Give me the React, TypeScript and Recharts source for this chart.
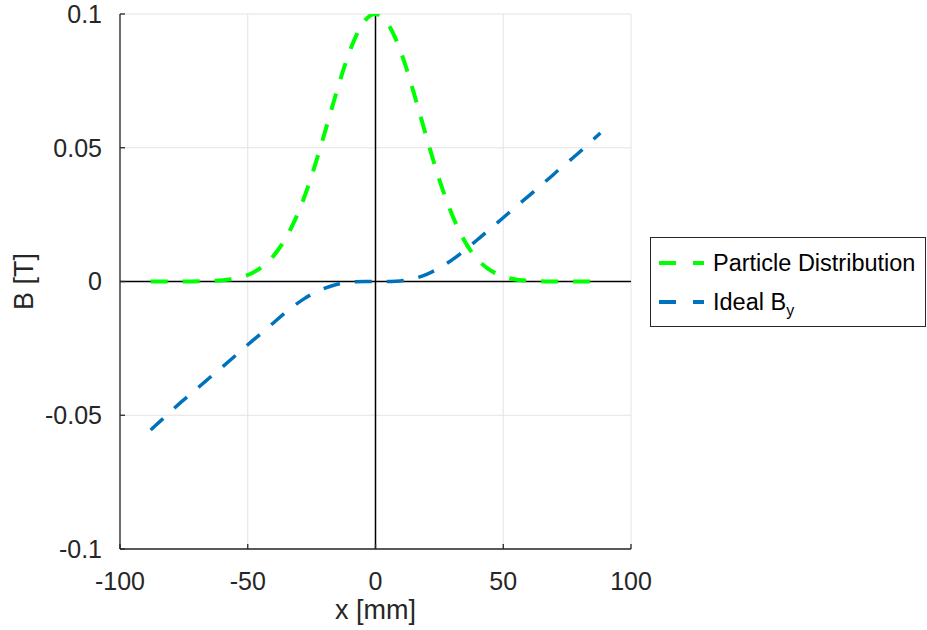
import React from 'react';
import { LineChart, Line, XAxis, YAxis, CartesianGrid, ReferenceLine, Legend } from 'recharts';

// Transverse position along the aperture (mm)
const xPositions = [
  -88, -84, -80, -76, -72, -68, -64, -60, -56, -52, -48, -44, -40, -36, -32, -28, -24, -20, -16, -12, -8, -4,
  0, 4, 8, 12, 16, 20, 24, 28, 32, 36, 40, 44, 48, 52, 56, 60, 64, 68, 72, 76, 80, 84, 88,
];

// Particle distribution profile (scaled to T)
const particleDistribution = [
  0, 0, 0, 0, 0, 0.0001, 0.0002, 0.0005, 0.0009, 0.0018, 0.0033, 0.0058, 0.0095, 0.0148, 0.022, 0.0312, 0.0425,
  0.0552, 0.0683, 0.0808, 0.091, 0.0977, 0.1, 0.0975, 0.0905, 0.08, 0.0672, 0.0538, 0.041, 0.0298, 0.0205, 0.0133,
  0.0082, 0.0048, 0.0026, 0.0013, 0.0006, 0.0003, 0.0001, 0, 0, 0, 0, 0, 0,
];

// Ideal vertical field B_y (T)
const idealBy = [
  -0.0555, -0.052, -0.0485, -0.045, -0.0418, -0.0385, -0.0352, -0.032, -0.0287, -0.0253, -0.022, -0.0188, -0.0155,
  -0.0122, -0.0092, -0.0065, -0.0043, -0.0026, -0.0013, -0.0005, -0.0001, 0, 0, 0, 0.0001, 0.0005, 0.0013, 0.0027,
  0.0045, 0.0068, 0.0095, 0.0125, 0.0157, 0.019, 0.0222, 0.0255, 0.0288, 0.032, 0.0353, 0.0386, 0.042, 0.0452,
  0.0485, 0.052, 0.0555,
];

const xTicks = [-100, -50, 0, 50, 100];
const yTicks = [-0.1, -0.05, 0, 0.05, 0.1];

const xLabel = 'x [mm]';
const yLabel = 'B [T]';
const seriesNames = { particle: 'Particle Distribution', ideal: 'Ideal B' };

const data = xPositions.map((x, i) => ({ x, particle: particleDistribution[i], ideal: idealBy[i] }));

const FONT = '"Liberation Sans", Arial, Helvetica, sans-serif';
const INK = '#262626';
const GREEN = '#00ff00';
const BLUE = '#0072bd';
const DASH = '17 15';

const tickStyle = { fontSize: 25, fill: INK, fontFamily: FONT };

const XTitle = (props: any) => {
  const vb = props.viewBox || {};
  return (
    <text x={vb.x + vb.width / 2} y={vb.y + vb.height - 11} textAnchor="middle" fontSize={27} fill={INK} fontFamily={FONT}>
      {xLabel}
    </text>
  );
};

const YTitle = (props: any) => {
  const vb = props.viewBox || {};
  const cx = 33;
  const cy = vb.y + vb.height / 2;
  return (
    <text x={cx} y={cy} transform={`rotate(-90, ${cx}, ${cy})`} textAnchor="middle" fontSize={27} fill={INK} fontFamily={FONT}>
      {yLabel}
    </text>
  );
};

const LegendBox = () => {
  const row = (color: string, label: React.ReactNode, top: number) => (
    <div style={{ position: 'absolute', left: 0, top, height: 30, width: '100%', display: 'flex', alignItems: 'center' }}>
      <svg width={60} height={30} style={{ display: 'block' }}>
        <line x1={8} y1={15} x2={53} y2={15} stroke={color} strokeWidth={4} strokeDasharray="17 17" />
      </svg>
      <span style={{ marginLeft: 2, fontSize: 23.5, color: '#000', fontFamily: FONT, whiteSpace: 'nowrap' }}>{label}</span>
    </div>
  );
  return (
    <div
      style={{
        position: 'relative',
        width: 276,
        height: 90,
        boxSizing: 'border-box',
        border: `1px solid ${INK}`,
        background: '#fff',
      }}
    >
      {row(GREEN, seriesNames.particle, 10)}
      {row(
        BLUE,
        <span>
          {seriesNames.ideal}
          <sub style={{ fontSize: 16, verticalAlign: 'sub', lineHeight: 0 }}>y</sub>
        </span>,
        49
      )}
    </div>
  );
};

export default function App() {
  return (
    <div style={{ position: 'absolute', left: 0, top: 0, width: 927, height: 630, background: '#fff' }}>
      <LineChart width={927} height={630} data={data} margin={{ top: 14, right: 296, bottom: 0, left: 0 }}>
        <CartesianGrid stroke="#e3e3e3" strokeWidth={1} />
        <XAxis
          dataKey="x"
          type="number"
          domain={[-100, 100]}
          ticks={xTicks}
          allowDataOverflow
          height={81}
          tickSize={-5}
          tickMargin={28}
          axisLine={{ stroke: INK, strokeWidth: 1.3 }}
          tickLine={{ stroke: INK, strokeWidth: 1.3 }}
          tick={tickStyle}
          interval={0}
          label={<XTitle />}
        />
        <XAxis
          xAxisId="top"
          orientation="top"
          dataKey="x"
          type="number"
          domain={[-100, 100]}
          ticks={xTicks}
          height={0}
          tickSize={-5}
          axisLine={{ stroke: INK, strokeWidth: 1.3 }}
          tickLine={{ stroke: INK, strokeWidth: 1.3 }}
          tick={false}
        />
        <YAxis
          type="number"
          domain={[-0.1, 0.1]}
          ticks={yTicks}
          allowDataOverflow
          width={120}
          tickSize={-5}
          tickMargin={23}
          axisLine={{ stroke: INK, strokeWidth: 1.3 }}
          tickLine={{ stroke: INK, strokeWidth: 1.3 }}
          tick={tickStyle}
          interval={0}
          label={<YTitle />}
        />
        <YAxis
          yAxisId="right"
          orientation="right"
          type="number"
          domain={[-0.1, 0.1]}
          ticks={yTicks}
          width={0}
          tickSize={-5}
          axisLine={{ stroke: INK, strokeWidth: 1.3 }}
          tickLine={{ stroke: INK, strokeWidth: 1.3 }}
          tick={false}
        />
        <ReferenceLine x={0} stroke="#000" strokeWidth={1.5} />
        <ReferenceLine y={0} stroke="#000" strokeWidth={1.5} />
        <Line
          type="monotone"
          dataKey="particle"
          name={seriesNames.particle}
          stroke={GREEN}
          strokeWidth={4}
          strokeDasharray={DASH}
          dot={false}
          activeDot={false}
          isAnimationActive={false}
        />
        <Line
          type="monotone"
          dataKey="ideal"
          name={seriesNames.ideal}
          stroke={BLUE}
          strokeWidth={3.5}
          strokeDasharray={DASH}
          dot={false}
          activeDot={false}
          isAnimationActive={false}
        />
        <Legend
          layout="vertical"
          align="center"
          verticalAlign="middle"
          content={<LegendBox />}
          wrapperStyle={{ left: 650, top: 237, width: 276, height: 90 }}
        />
      </LineChart>
    </div>
  );
}
